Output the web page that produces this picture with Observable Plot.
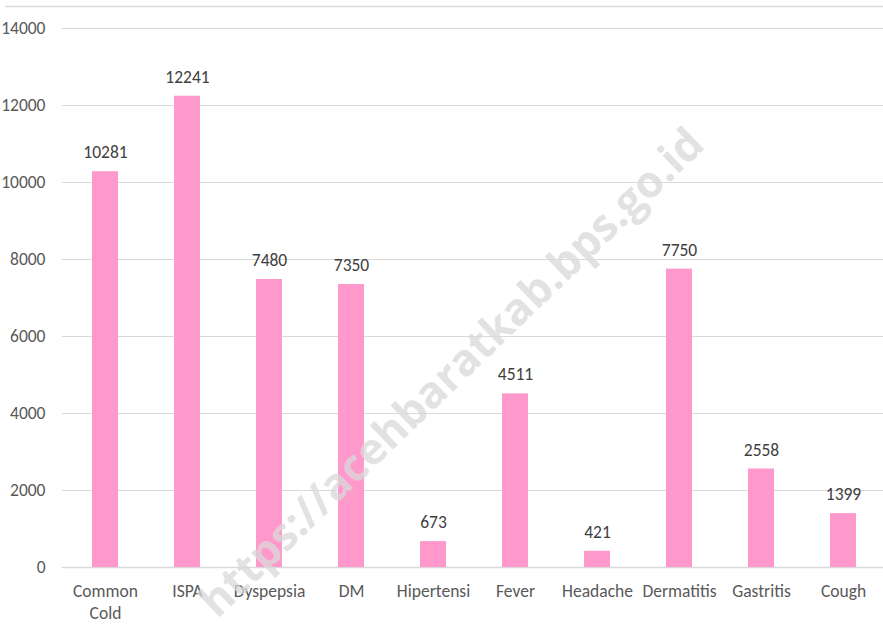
<!DOCTYPE html>
<html><head><meta charset="utf-8">
<script src="https://cdn.jsdelivr.net/npm/d3@7"></script>
<script src="https://cdn.jsdelivr.net/npm/@observablehq/plot@0.6"></script>
<style>body{margin:0;background:#fff}</style>
</head><body><div id="chart"></div>
<script>
const categories = ["Common Cold","ISPA","Dyspepsia","DM","Hipertensi","Fever","Headache","Dermatitis","Gastritis","Cough"];
const values = [10281,12241,7480,7350,673,4511,421,7750,2558,1399];
const yTicks = [0,2000,4000,6000,8000,10000,12000,14000];
const data = categories.map((c,i)=>({c, v: values[i]}));
const font = "Calibri, Carlito, Lato, sans-serif";
const fs = 17.5;
const chart = Plot.plot({
  width: 883, height: 635,
  marginLeft: 62, marginRight: 0, marginTop: 28, marginBottom: 68,
  style: {fontFamily: font, fontSize: fs + "px", color: "#595959", background: "#fff", overflow: "hidden"},
  x: {domain: categories, range: [62, 886], paddingInner: 0.684, paddingOuter: 0.342, label: null, axis: null},
  y: {domain: [0,14000], ticks: yTicks, label: null, axis: null},
  marks: [
    Plot.gridY(yTicks, {stroke: "#d9d9d9", strokeOpacity: 1, strokeWidth: 1}),
    Plot.ruleY([0], {stroke: "#d9d9d9", strokeWidth: 1.5}),
    Plot.barY(data, {x: "c", y: "v", fill: "#ff99cc"}),
    Plot.text(data, {x: "c", y: "v", text: d => String(d.v), dy: -19, fill: "#404040", fontSize: fs}),
    Plot.axisY(yTicks, {tickSize: 0, tickPadding: 17, tickFormat: d => String(d), fill: "#595959", fontSize: fs, label: null}),
    Plot.axisX({tickSize: 0, tickPadding: 14, fill: "#595959", fontSize: fs, label: null, lineWidth: 6, lineHeight: 1.25, tickFormat: d => d}),
    Plot.text(["https://acehbaratkab.bps.go.id"], {frameAnchor: "middle", dx: -21, dy: 75, rotate: -44, fontSize: 44, fontWeight: "bold", fill: "#d9d9d9", fillOpacity: 0.75, fontFamily: "Open Sans, sans-serif"})
  ]
});
const svg = d3.select(chart);
svg.append("line").attr("x1",5).attr("x2",883).attr("y1",6.5).attr("y2",6.5).attr("stroke","#d9d9d9").attr("stroke-width",1.5);
document.getElementById("chart").appendChild(chart);
</script>
</body></html>
